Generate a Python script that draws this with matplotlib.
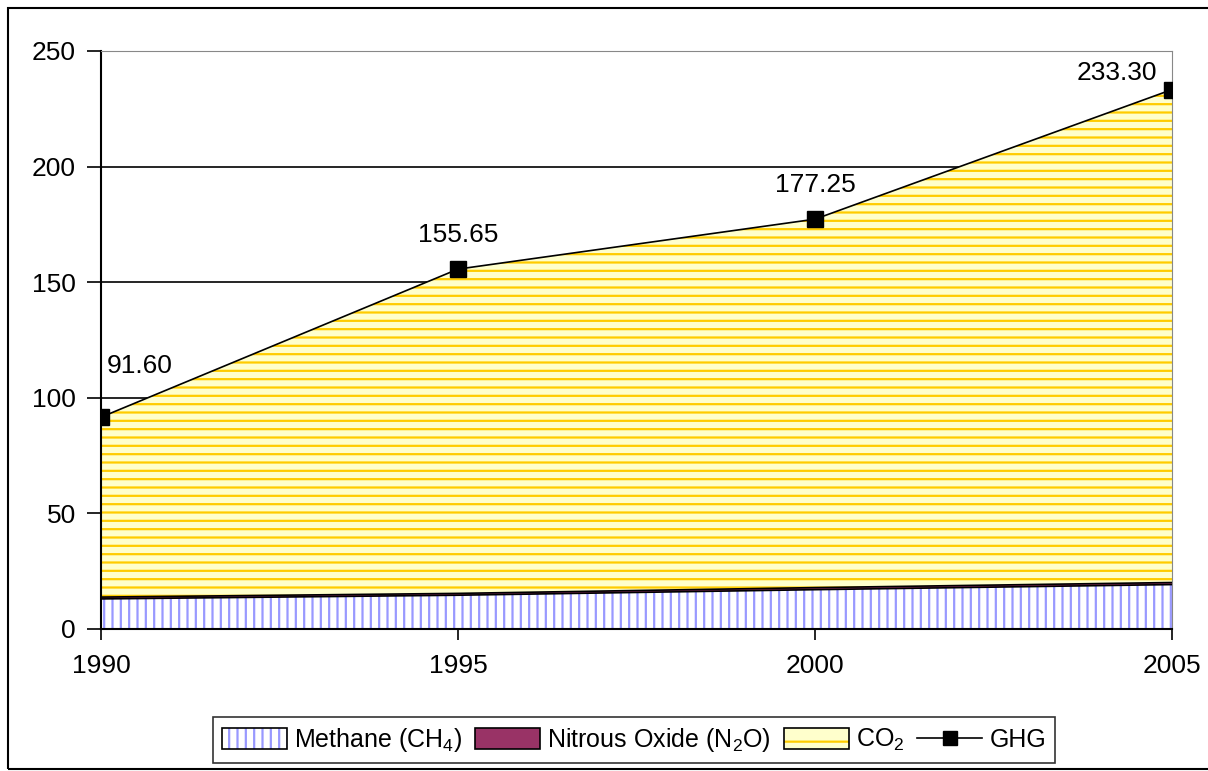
import matplotlib.pyplot as plt
from matplotlib.patches import Rectangle, Patch
from matplotlib.lines import Line2D
from matplotlib.legend_handler import HandlerTuple

plt.rcParams['font.family'] = ['Liberation Sans', 'DejaVu Sans']
plt.rcParams['mathtext.fontset'] = 'custom'
plt.rcParams['mathtext.rm'] = 'Liberation Sans'
plt.rcParams['mathtext.it'] = 'Liberation Sans'
plt.rcParams['hatch.linewidth'] = 1.6

years = [1990, 1995, 2000, 2005]
ghg = [91.60, 155.65, 177.25, 233.30]
methane = [13.0, 14.6, 17.0, 19.2]
n2o = [0.8, 0.8, 0.9, 0.9]
co2 = [g - m - n for g, m, n in zip(ghg, methane, n2o)]

base2 = [m + n for m, n in zip(methane, n2o)]
top = [b + c for b, c in zip(base2, co2)]

fig = plt.figure(figsize=(12.08, 7.71), dpi=100)
ax = fig.add_axes([0.0836, 0.1842, 0.8866, 0.7497])

# outer chart frame
fig.patches.append(Rectangle((8 / 1208, 2 / 771), 1.2, 761 / 771, transform=fig.transFigure,
                             fill=False, edgecolor='black', linewidth=1.5))

# stacked areas
ax.fill_between(years, 0, methane, facecolor='white', edgecolor='#9999FF', hatch='||', linewidth=0, zorder=2)
ax.fill_between(years, methane, base2, facecolor='#993366', linewidth=0, zorder=2)
ax.fill_between(years, base2, top, facecolor='#FFFFCC', edgecolor='#FFCC00', hatch='--', linewidth=0, zorder=2)
ax.plot(years, methane, color='black', linewidth=1.2, zorder=3)
ax.plot(years, base2, color='black', linewidth=1.2, zorder=3)

# GHG total line
ax.plot(years, ghg, color='black', linewidth=1.2, marker='s', markersize=11, zorder=4)

offsets = [(28, 28), (0, 16), (0, 16), (-40, 3)]
for x, y, off in zip(years, ghg, offsets):
    ax.annotate(f'{y:.2f}', (x, y), xytext=off, textcoords='offset points',
                ha='center', va='bottom', fontsize=19)

ax.set_xlim(1990, 2005)
ax.set_ylim(0, 250)
ax.set_xticks(years)
ax.set_yticks(range(0, 251, 50))
ax.grid(axis='y', color='black', linewidth=1.2, zorder=0)
ax.set_axisbelow(True)
ax.tick_params(axis='both', labelsize=19, length=8, width=1.2, color='black')
ax.tick_params(axis='x', pad=10)
ax.tick_params(axis='y', length=10, pad=8)
ax.spines['left'].set_linewidth(1.5)
ax.spines['bottom'].set_linewidth(1.5)
ax.spines['top'].set_color('#888888')
ax.spines['right'].set_color('#888888')


def box(**kw):
    return (Patch(linewidth=0, **kw), Patch(facecolor='none', edgecolor='black', linewidth=1.2))


handles = [
    box(facecolor='white', edgecolor='#9999FF', hatch='||'),
    box(facecolor='#993366'),
    box(facecolor='#FFFFCC', edgecolor='#FFCC00', hatch='-'),
    Line2D([], [], color='black', marker='s', markersize=10, linewidth=1.2),
]
labels = ['Methane (CH$_4$)', 'Nitrous Oxide (N$_2$O)', 'CO$_2$', 'GHG']
leg = fig.legend(handles, labels, loc='center', bbox_to_anchor=(0.525, 0.04), ncol=4,
                 fontsize=18, frameon=True, fancybox=False, edgecolor='black',
                 handlelength=2.6, handleheight=0.9, handletextpad=0.3, columnspacing=0.5,
                 borderpad=0.35, handler_map={tuple: HandlerTuple(ndivide=1, pad=0)})
leg.get_frame().set_linewidth(1.2)

fig.savefig('out.png', dpi=100)
